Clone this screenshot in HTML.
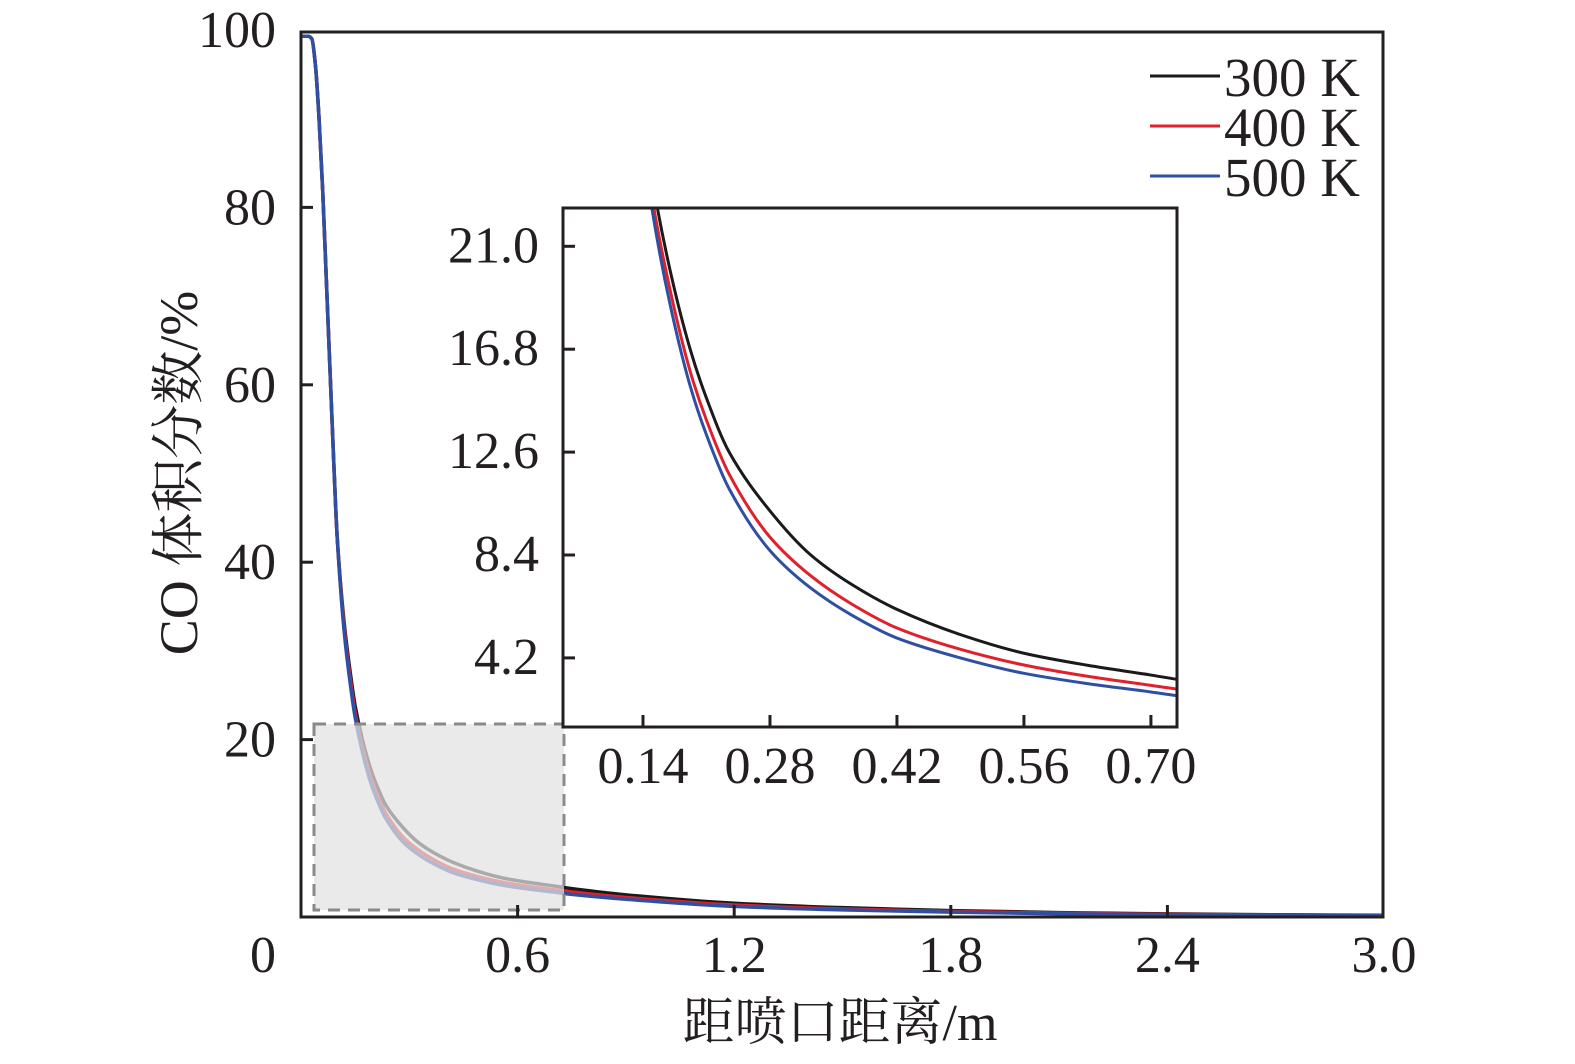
<!DOCTYPE html>
<html><head><meta charset="utf-8"><style>
body{margin:0;background:#fff}
svg{display:block}
text{font-family:"Liberation Serif","Noto Serif CJK SC",serif;fill:#231f20}
</style></head><body>
<svg id="chart" width="1575" height="1064" viewBox="0 0 1575 1064">
<defs><clipPath id="insetClip"><rect x="563" y="208" width="614" height="519"/></clipPath>
<clipPath id="mainClip"><rect x="301" y="30" width="1082" height="887"/></clipPath></defs>
<g id="main"></g>
<g id="inset"></g>
<g id="legend"></g>
<text x="840" y="1040" font-size="52" text-anchor="middle">距喷口距离/m</text>
<text transform="translate(197,473) rotate(-90)" font-size="54" text-anchor="middle">CO 体积分数/%</text>
</svg>
<script>
const xs = [0,0.02,0.03,0.04,0.05,0.06,0.07,0.08,0.09,0.10,0.12,0.14,0.15,0.17,0.192,0.21,0.235,0.28,0.325,0.37,0.42,0.49,0.56,0.63,0.70,0.75,0.9,1.2,1.5,1.8,2.1,2.4,2.7,3.0];
const s300 = [99.3,99.3,99,96,90,82,72,62,52,43,33,26.5,23.8,20.0,16.8,14.8,12.6,10.2,8.4,7.2,6.18,5.15,4.39,3.9,3.5,3.2,2.5,1.55,1.05,0.72,0.5,0.35,0.25,0.2];
const s400 = [99.3,99.3,99,96,90,82,72,62,52,43,32.5,25.8,23.0,19.2,15.9,13.9,11.7,9.13,7.55,6.4,5.42,4.55,3.91,3.45,3.08,2.82,2.2,1.35,0.9,0.62,0.43,0.3,0.22,0.17];
const s500 = [99.3,99.3,99,96,90,82,72,62,52,43,32,25.2,22.5,18.6,15.3,13.3,11.1,8.58,7.05,5.95,5.01,4.2,3.57,3.15,2.81,2.55,2.0,1.2,0.8,0.55,0.37,0.26,0.18,0.14];
const seriesNames = ["300 K","400 K","500 K"];
const seriesColors = ["#1a1a1a","#e0212b","#2f4fa2"];
const mainXTicks = [0,0.6,1.2,1.8,2.4,3.0];
const mainXLabels = ["0","0.6","1.2","1.8","2.4","3.0"];
const mainYTicks = [20,40,60,80,100];
const insetXTicks = [0.14,0.28,0.42,0.56,0.70];
const insetYTicks = [4.2,8.4,12.6,16.8,21.0];

const NS="http://www.w3.org/2000/svg";
function mk(parent,tag,attrs){const e=document.createElementNS(NS,tag);for(const k in attrs)e.setAttribute(k,attrs[k]);parent.appendChild(e);return e;}
function smoothPath(P){
  const n=P.length, d=[], m=new Array(n).fill(0);
  for(let i=0;i<n-1;i++) d.push((P[i+1][1]-P[i][1])/(P[i+1][0]-P[i][0]));
  m[0]=d[0]; m[n-1]=d[n-2];
  for(let i=1;i<n-1;i++){ m[i]=(d[i-1]*d[i]<=0)?0:2/(1/d[i-1]+1/d[i]); }
  let s='M'+P[0][0]+','+P[0][1];
  for(let i=0;i<n-1;i++){const h=P[i+1][0]-P[i][0];
    s+=' C'+(P[i][0]+h/3)+','+(P[i][1]+m[i]*h/3)+' '+(P[i+1][0]-h/3)+','+(P[i+1][1]-m[i+1]*h/3)+' '+P[i+1][0]+','+P[i+1][1];}
  return s;
}
const series=[s300,s400,s500];
const mx=v=>301+v*361.0, my=v=>917-v*8.87;
const main=document.getElementById('main');
const mg=mk(main,'g',{'clip-path':'url(#mainClip)'});
series.forEach((s,i)=>{
  const p=mk(mg,'path',{d:smoothPath(xs.map((x,j)=>[mx(x),my(s[j])])),fill:'none',stroke:seriesColors[i],'stroke-width':3.5,'stroke-linejoin':'round'});
  
  
});
const zoomBox=mk(main,'rect',{x:314,y:724,width:250,height:186,fill:'#e2e2e2','fill-opacity':0.72,stroke:'#8a8a8a','stroke-width':3,'stroke-dasharray':'12,8'});


const frame=mk(main,'rect',{x:301,y:32,width:1082,height:885,fill:'none',stroke:'#231f20','stroke-width':3});


mainXTicks.forEach((t,i)=>{
  if(i>0&&i<mainXTicks.length-1) mk(main,'line',{x1:mx(t),x2:mx(t),y1:917,y2:905,stroke:'#231f20','stroke-width':3});
  const tx=mk(main,'text',{x:i==0?263:mx(t),y:972,'font-size':52,'text-anchor':'middle'});tx.textContent=mainXLabels[i];
  
  
});
mainYTicks.forEach(t=>{
  if(t<100) mk(main,'line',{x1:301,x2:313,y1:my(t),y2:my(t),stroke:'#231f20','stroke-width':3});
  const tx=mk(main,'text',{x:276,y:t==100?47:my(t)+17,'font-size':52,'text-anchor':'end'});tx.textContent=String(t);
  
  
});
const ix=v=>643+(v-0.14)*907.0, iy=v=>246.3+(21-v)*24.5;
const inset=document.getElementById('inset');
mk(inset,'rect',{x:563,y:208,width:614,height:519,fill:'#fff'});
const ig=mk(inset,'g',{'clip-path':'url(#insetClip)'});
series.forEach((s,i)=>{
  const p=mk(ig,'path',{d:smoothPath(xs.map((x,j)=>[ix(x),iy(s[j])])),fill:'none',stroke:seriesColors[i],'stroke-width':3,'stroke-linejoin':'round'});
  
  
});
const iframe=mk(inset,'rect',{x:563,y:208,width:614,height:519,fill:'none',stroke:'#231f20','stroke-width':3});


insetXTicks.forEach(t=>{
  mk(inset,'line',{x1:ix(t),x2:ix(t),y1:727,y2:715,stroke:'#231f20','stroke-width':3});
  const tx=mk(inset,'text',{x:ix(t),y:783,'font-size':52,'text-anchor':'middle'});tx.textContent=t.toFixed(2);
  
  
});
insetYTicks.forEach(t=>{
  mk(inset,'line',{x1:563,x2:575,y1:iy(t),y2:iy(t),stroke:'#231f20','stroke-width':3});
  const tx=mk(inset,'text',{x:539,y:iy(t)+16,'font-size':52,'text-anchor':'end'});tx.textContent=t.toFixed(1);
  
  
});
const lg=document.getElementById('legend');
seriesNames.forEach((n,i)=>{
  const y=76+i*50;
  const l=mk(lg,'line',{x1:1150,x2:1220,y1:y,y2:y,stroke:seriesColors[i],'stroke-width':3});
  
  
  const tx=mk(lg,'text',{x:1224,y:y+20,'font-size':55});tx.textContent=n;
  
  
});
</script>
</body></html>
